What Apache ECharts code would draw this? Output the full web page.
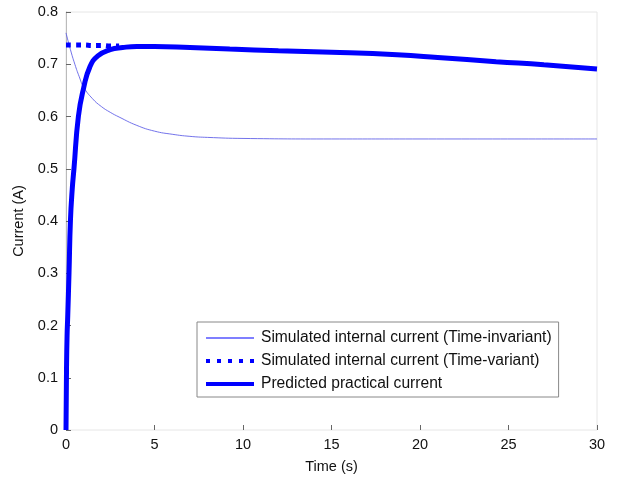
<!DOCTYPE html>
<html>
<head>
<meta charset="utf-8">
<script src="https://cdn.jsdelivr.net/npm/echarts@6/dist/echarts.min.js"></script>
<style>
  html, body { margin: 0; padding: 0; background: #fff; }
  #chart { width: 627px; height: 479px; }
</style>
</head>
<body>
<div id="chart"></div>
<script>
// values
var invariantT = [0, 0.25, 0.5, 0.75, 1, 1.5, 2, 2.5, 3, 4, 5, 6, 7, 8, 10, 15, 20, 30];
var invariantI = [0.76, 0.728, 0.70, 0.676, 0.656, 0.634, 0.619, 0.608, 0.599, 0.583, 0.572, 0.566, 0.562, 0.56, 0.558, 0.557, 0.557, 0.557];

var variantT = [0, 0.5, 1, 1.5, 2, 2.5, 3];
var variantI = [0.737, 0.737, 0.737, 0.736, 0.736, 0.735, 0.735];

var practicalT = [0, 0.03, 0.06, 0.1, 0.17, 0.25, 0.35, 0.45, 0.7, 1.0, 1.35, 1.8, 2.5, 3.2, 4, 5, 7, 9.25, 12, 15, 18.7, 21, 24.3, 27, 30];
var practicalI = [0, 0.12, 0.18, 0.22, 0.3, 0.4, 0.46, 0.5, 0.6, 0.655, 0.695, 0.716, 0.728, 0.732, 0.734, 0.734, 0.732, 0.729, 0.726, 0.723, 0.718, 0.713, 0.705, 0.699, 0.691];

var xTicks = [0, 5, 10, 15, 20, 25, 30];
var yTicks = [0, 0.1, 0.2, 0.3, 0.4, 0.5, 0.6, 0.7, 0.8];

function pairs(t, v) {
  var out = [];
  for (var i = 0; i < t.length; i++) out.push([t[i], v[i]]);
  return out;
}

var chart = echarts.init(document.getElementById('chart'));
var font = 'Liberation Sans, Arial, sans-serif';

chart.setOption({
  backgroundColor: '#fff',
  animation: false,
  grid: { left: 66, right: 30, top: 12, bottom: 49, outerBoundsMode: 'none', containLabel: false,
    show: true, borderColor: '#e6e6e6', borderWidth: 1 },
  xAxis: {
    type: 'value',
    min: xTicks[0], max: xTicks[xTicks.length - 1], interval: 5,
    name: 'Time (s)', nameLocation: 'middle', nameGap: 29,
    nameTextStyle: { color: '#111', fontSize: 14.5, fontFamily: font },
    axisLine: { show: false },
    axisTick: { show: true, inside: true, length: 5, lineStyle: { color: '#666' } },
    axisLabel: { color: '#111', fontSize: 14.5, fontFamily: font, margin: 7 },
    splitLine: { show: false }
  },
  yAxis: {
    type: 'value',
    min: yTicks[0], max: yTicks[yTicks.length - 1], interval: 0.1,
    name: 'Current (A)', nameLocation: 'middle', nameGap: 40,
    nameTextStyle: { color: '#111', fontSize: 14.5, fontFamily: font },
    axisLine: { show: true, lineStyle: { color: '#bbb', width: 1 } },
    axisTick: { show: true, inside: true, length: 5, lineStyle: { color: '#666' } },
    axisLabel: { color: '#111', fontSize: 14.5, fontFamily: font, margin: 8,
      formatter: function (v) { return +v.toFixed(1) + ''; } },
    splitLine: { show: false }
  },
  legend: {
    orient: 'vertical',
    left: 197, top: 322,
    itemWidth: 48, itemHeight: 4, itemGap: 7,
    padding: [8, 7, 5, 9],
    borderColor: '#888', borderWidth: 1,
    backgroundColor: '#fff',
    textStyle: { color: '#111', fontSize: 15.6, fontFamily: font, padding: [0, 0, 0, 2] },
    data: [
      { name: 'Simulated internal current (Time-invariant)', icon: 'path://M0,1.5 L48,1.5 L48,2.5 L0,2.5 Z' },
      { name: 'Simulated internal current (Time-variant)', icon: 'path://M0,0 L4,0 L4,4 L0,4 Z M11,0 L15,0 L15,4 L11,4 Z M22,0 L26,0 L26,4 L22,4 Z M33,0 L37,0 L37,4 L33,4 Z M44,0 L48,0 L48,4 L44,4 Z' },
      { name: 'Predicted practical current', icon: 'rect' }
    ]
  },
  series: [
    {
      name: 'Simulated internal current (Time-invariant)',
      type: 'line', smooth: true, showSymbol: false,
      data: pairs(invariantT, invariantI),
      itemStyle: { color: '#0000ff' },
      lineStyle: { color: '#5a5ae6', width: 1, opacity: 0.85 }
    },
    {
      name: 'Simulated internal current (Time-variant)',
      type: 'line', smooth: true, showSymbol: false,
      data: pairs(variantT, variantI),
      itemStyle: { color: '#0000ff' },
      lineStyle: { color: '#0000ff', width: 5, type: [5, 5] }
    },
    {
      name: 'Predicted practical current',
      type: 'line', smooth: true, showSymbol: false,
      data: pairs(practicalT, practicalI),
      itemStyle: { color: '#0000ff' },
      lineStyle: { color: '#0000ff', width: 5 }
    }
  ]
});
</script>
</body>
</html>
